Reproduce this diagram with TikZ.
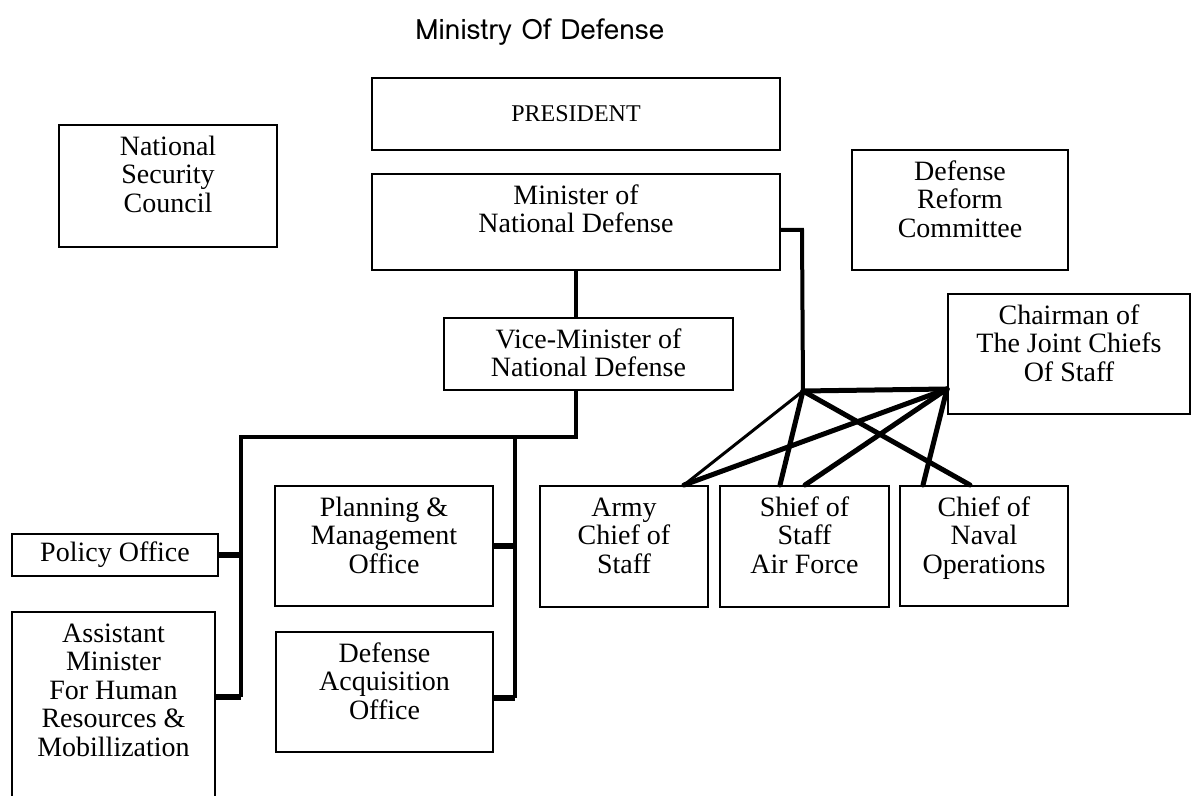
\documentclass[tikz,border=0pt]{standalone}
\usepackage{fontspec}
\setmainfont{Liberation Serif}
\newfontfamily\titlefont{Loma}
\usepackage{tikz}
\newcommand\boxtext[3]{\parbox[t][#2][t]{#1}{\centering\vspace*{5pt}\strut#3}}

\begin{document}
\begin{tikzpicture}[x=0.5pt,y=-0.5pt,
  box/.style={draw,line width=1pt,inner sep=0pt,anchor=north west,
    font=\fontsize{14}{14.3}\selectfont},
  link/.style={line width=2pt},
  stub/.style={line width=3pt},
  cross/.style={line width=2.5pt,line cap=round},
  thincross/.style={line width=1.5pt,line cap=round}]
\useasboundingbox (0,0) rectangle (1191,796);

\node[font=\titlefont\fontsize{14}{16}\selectfont,anchor=base] (title) at (540,40) {Ministry Of Defense};

\node[box,minimum width=204pt,minimum height=36pt,font=\fontsize{12}{14}\selectfont] (pres) at (371,77) {PRESIDENT};
\node[box] (minister) at (371,173) {\boxtext{204pt}{48pt}{Minister of\\National Defense}};
\node[box] (nsc) at (58,124) {\boxtext{109pt}{61pt}{National\\Security\\Council}};
\node[box] (reform) at (851,149) {\boxtext{108pt}{60pt}{Defense\\Reform\\Committee}};
\node[box] (vice) at (443,317) {\boxtext{144.5pt}{36pt}{Vice-Minister of\\National Defense}};
\node[box] (chairman) at (947,293) {\boxtext{121pt}{60pt}{Chairman of\\The Joint Chiefs\\Of Staff}};
\node[box] (army) at (539,485) {\boxtext{84pt}{60.5pt}{Army\\Chief of\\Staff}};
\node[box] (airforce) at (719,485) {\boxtext{84.5pt}{60.5pt}{Shief of\\Staff\\Air Force}};
\node[box] (naval) at (899,485) {\boxtext{84pt}{60pt}{Chief of\\Naval\\Operations}};
\node[box,minimum width=103pt,minimum height=21pt] (policy) at (11,533) {Policy Office};
\node[box] (assistant) at (11,611) {\boxtext{101.5pt}{95pt}{Assistant\\Minister\\For Human\\Resources \&\\Mobillization}};
\node[box] (planning) at (274,485) {\boxtext{109pt}{60pt}{Planning \&\\Management\\Office}};
\node[box] (acquisition) at (275,631) {\boxtext{108.5pt}{60pt}{Defense\\Acquisition\\Office}};

\coordinate (busL) at (241,437);
\coordinate (busR) at (515,437);
\coordinate (astub) at (241,697);
\coordinate (qstub) at (515,698);
\coordinate (mstub) at (802,230);
\coordinate (jn) at (803,391);
\coordinate (cj) at (947,389);
\coordinate (armytop) at (684,485);
\coordinate (airtop) at (780,485);
\coordinate (airtopc) at (805,485);
\coordinate (navtopc) at (923,485);
\coordinate (navtop) at (970,485);

\draw[link] (minister.south) -- (minister.south |- vice.north);
\draw[link] (minister.south |- vice.south) |- (busL) -- (astub);
\draw[link] (busR) -- (qstub);
\draw[stub] (policy.east) -- (policy.east -| busL);
\draw[stub] (astub -| assistant.east) -- (astub);
\draw[stub] (planning.east) -- (planning.east -| busR);
\draw[stub] (qstub -| acquisition.east) -- (qstub);
\draw[link] (minister.east |- mstub) -- (mstub) -- (jn);

\draw[thincross] (jn) -- (armytop);
\draw[cross] (jn) -- (airtop);
\draw[cross] (jn) -- (navtop);
\draw[cross] (jn) -- (cj);
\draw[cross] (cj) -- (armytop);
\draw[cross] (cj) -- (airtopc);
\draw[cross] (cj) -- (navtopc);
\end{tikzpicture}
\end{document}
